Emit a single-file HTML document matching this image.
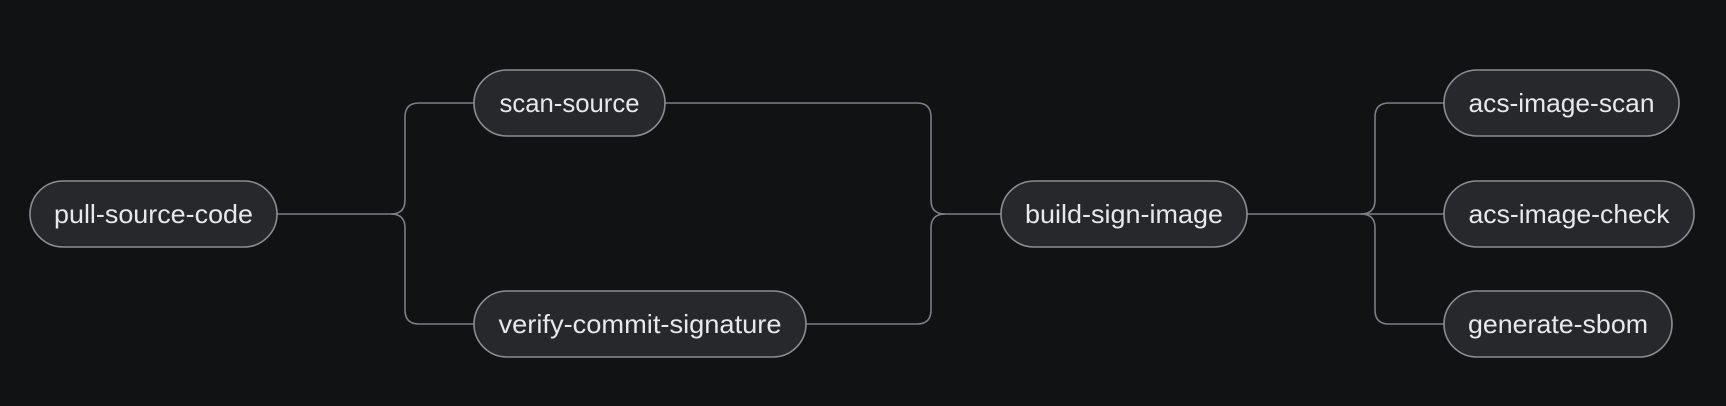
<!DOCTYPE html>
<html><head><meta charset="utf-8"><style>
html,body{margin:0;padding:0;background:#111214;}
svg{display:block}
text{font-family:"Liberation Sans","DejaVu Sans",sans-serif;font-size:26px;fill:#e8e8ea;text-anchor:middle;dominant-baseline:central}
</style></head><body>
<svg width="1726" height="406" viewBox="0 0 1726 406">
<rect width="1726" height="406" fill="#111214"/>
<g fill="none" stroke="#7d7e82" stroke-width="1.6">
<path d="M277 214 H391 Q405 214 405 200 V117 Q405 103 419 103 H474"/>
<path d="M391 214 Q405 214 405 228 V310 Q405 324 419 324 H474"/>
<path d="M665 103 H917 Q931 103 931 117 V200 Q931 214 945 214 H1001"/>
<path d="M806 324 H917 Q931 324 931 310 V228 Q931 214 945 214"/>
<path d="M1247 214 H1361 Q1375 214 1375 200 V117 Q1375 103 1389 103 H1444"/>
<path d="M1361 214 H1444"/>
<path d="M1361 214 Q1375 214 1375 228 V310 Q1375 324 1389 324 H1444"/>
</g>
<g fill="#27282c" stroke="#8c8d91" stroke-width="1.6">
<rect x="30" y="181" width="247" height="66" rx="33"/>
<rect x="474" y="70" width="191" height="66" rx="33"/>
<rect x="474" y="291" width="332" height="66" rx="33"/>
<rect x="1001" y="181" width="246" height="66" rx="33"/>
<rect x="1444" y="70" width="235" height="66" rx="33"/>
<rect x="1444" y="181" width="250" height="66" rx="33"/>
<rect x="1444" y="291" width="228" height="66" rx="33"/>
</g>
<text x="153.5" y="214" textLength="199" lengthAdjust="spacingAndGlyphs">pull-source-code</text>
<text x="569.5" y="103" textLength="140" lengthAdjust="spacingAndGlyphs">scan-source</text>
<text x="640" y="324" textLength="283" lengthAdjust="spacingAndGlyphs">verify-commit-signature</text>
<text x="1124" y="214" textLength="198" lengthAdjust="spacingAndGlyphs">build-sign-image</text>
<text x="1561.5" y="103" textLength="186" lengthAdjust="spacingAndGlyphs">acs-image-scan</text>
<text x="1569" y="214" textLength="201" lengthAdjust="spacingAndGlyphs">acs-image-check</text>
<text x="1558" y="324" textLength="180" lengthAdjust="spacingAndGlyphs">generate-sbom</text>
</svg>
</body></html>
